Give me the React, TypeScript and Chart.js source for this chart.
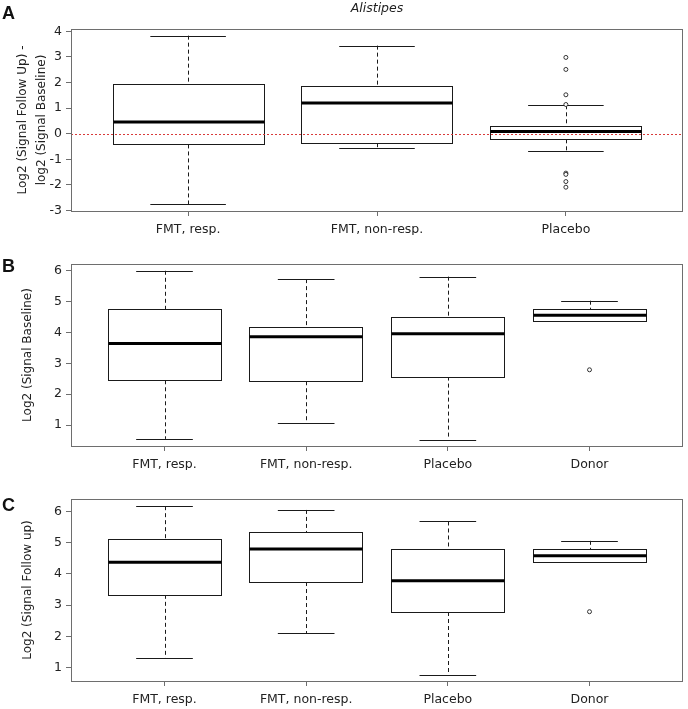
import React, { useEffect, useRef } from "react";
import { Chart, registerables } from "chart.js";

Chart.register(...registerables);

// ---------- data ----------
const categoriesA = ["FMT, resp.", "FMT, non-resp.", "Placebo"];
const categoriesBC = ["FMT, resp.", "FMT, non-resp.", "Placebo", "Donor"];

const yTicksA = [-3, -2, -1, 0, 1, 2, 3, 4];
const yTicksBC = [1, 2, 3, 4, 5, 6];

// Panel A: Log2 fold change
const lowA = [-2.75, -0.57, -0.69];
const q1A = [-0.42, -0.37, -0.22];
const medianA = [0.46, 1.2, 0.09];
const q3A = [1.93, 1.86, 0.31];
const highA = [3.83, 3.44, 1.11];
const outlierGroupA = [3, 3, 3, 3, 3, 3, 3, 3];
const outlierValueA = [2.98, 2.51, 1.52, 1.14, -1.54, -1.59, -1.87, -2.09];

// Panel B: baseline
const lowB = [0.55, 1.05, 0.53, 4.37];
const q1B = [2.45, 2.42, 2.57, 4.37];
const medianB = [3.64, 3.86, 3.96, 4.56];
const q3B = [4.76, 4.17, 4.51, 4.76];
const highB = [6.0, 5.73, 5.81, 5.03];
const outlierGroupB = [4];
const outlierValueB = [2.79];

// Panel C: follow up
const lowC = [1.31, 2.1, 0.77, 4.37];
const q1C = [3.33, 3.74, 2.78, 4.37];
const medianC = [4.37, 4.8, 3.78, 4.58];
const q3C = [5.13, 5.34, 4.8, 4.79];
const highC = [6.17, 6.05, 5.68, 5.06];
const outlierGroupC = [4];
const outlierValueC = [2.79];

const FONT = "'DejaVu Sans', Verdana, sans-serif";

type PanelProps = {
  categories: string[];
  low: number[];
  q1: number[];
  median: number[];
  q3: number[];
  high: number[];
  outlierGroup: number[];
  outlierValue: number[];
  yTicks: number[];
  yMin: number;
  yMax: number;
  xMin: number;
  xMax: number;
  yTitle: string | string[];
  yTitlePad: number;
  title?: string;
  zeroLine?: boolean;
  height: number;
  top: number;
};

function BoxPanel(p: PanelProps) {
  const ref = useRef<HTMLCanvasElement | null>(null);

  useEffect(() => {
    if (!ref.current) return;
    const plotBottom = 211;

    const boxPlugin = {
      id: "boxplotDraw",
      beforeDatasetsDraw(chart: any) {
        const { ctx, scales } = chart;
        const xs = scales.x;
        const ys = scales.y;
        ctx.save();
        for (let i = 0; i < p.categories.length; i++) {
          const v = i + 1;
          const cx = xs.getPixelForValue(v);
          const hw = xs.getPixelForValue(v + 0.4) - cx;
          const cap = hw / 2;
          const yl = ys.getPixelForValue(p.low[i]);
          const y1 = ys.getPixelForValue(p.q1[i]);
          const ym = ys.getPixelForValue(p.median[i]);
          const y3 = ys.getPixelForValue(p.q3[i]);
          const yh = ys.getPixelForValue(p.high[i]);
          ctx.strokeStyle = "#1a1a1a";
          ctx.lineWidth = 1;
          // whiskers (dashed)
          ctx.setLineDash([4, 3]);
          ctx.beginPath();
          ctx.moveTo(Math.round(cx) + 0.5, yh);
          ctx.lineTo(Math.round(cx) + 0.5, y3);
          ctx.moveTo(Math.round(cx) + 0.5, y1);
          ctx.lineTo(Math.round(cx) + 0.5, yl);
          ctx.stroke();
          ctx.setLineDash([]);
          // caps
          ctx.beginPath();
          ctx.moveTo(cx - cap, Math.round(yh) + 0.5);
          ctx.lineTo(cx + cap, Math.round(yh) + 0.5);
          ctx.moveTo(cx - cap, Math.round(yl) + 0.5);
          ctx.lineTo(cx + cap, Math.round(yl) + 0.5);
          ctx.stroke();
          // box
          ctx.fillStyle = "#ffffff";
          const bx = Math.round(cx - hw) + 0.5;
          const bw = Math.round(2 * hw);
          const by = Math.round(y3) + 0.5;
          const bh = Math.round(y1) - Math.round(y3);
          ctx.fillRect(bx, by, bw, bh);
          ctx.strokeRect(bx, by, bw, bh);
        }
        if (p.zeroLine) {
          const y0 = Math.round(ys.getPixelForValue(0)) + 0.5;
          ctx.strokeStyle = "#d83a3a";
          ctx.lineWidth = 1;
          ctx.setLineDash([2, 2]);
          ctx.beginPath();
          ctx.moveTo(chart.chartArea.left, y0);
          ctx.lineTo(chart.chartArea.right, y0);
          ctx.stroke();
          ctx.setLineDash([]);
        }
        // medians on top
        for (let i = 0; i < p.categories.length; i++) {
          const v = i + 1;
          const cx = xs.getPixelForValue(v);
          const hw = xs.getPixelForValue(v + 0.4) - cx;
          const ym = ys.getPixelForValue(p.median[i]);
          ctx.strokeStyle = "#000000";
          ctx.lineWidth = 3;
          ctx.beginPath();
          ctx.moveTo(Math.round(cx - hw) + 0.5, ym);
          ctx.lineTo(Math.round(cx - hw) + 0.5 + Math.round(2 * hw), ym);
          ctx.stroke();
        }
        ctx.restore();
      },
      afterDraw(chart: any) {
        const { ctx, chartArea } = chart;
        ctx.save();
        ctx.strokeStyle = "#6e6e6e";
        ctx.lineWidth = 1;
        ctx.strokeRect(
          Math.round(chartArea.left) + 0.5,
          Math.round(chartArea.top) + 0.5,
          Math.round(chartArea.right - chartArea.left) - 1,
          Math.round(chartArea.bottom - chartArea.top)
        );
        ctx.restore();
      },
    };

    const outlierData = p.outlierValue.map((val, k) => ({ x: p.outlierGroup[k], y: val }));

    const chart = new Chart(ref.current, {
      type: "scatter",
      data: {
        datasets: [
          {
            label: "outliers",
            data: outlierData,
            pointStyle: "circle",
            pointRadius: 2,
            pointBorderWidth: 1,
            borderColor: "#333333",
            backgroundColor: "#ffffff",
          },
        ],
      },
      options: {
        responsive: false,
        animation: false,
        devicePixelRatio: 1,
        layout: {
          padding: { top: p.title ? 0 : 29, left: 0, right: 1, bottom: 0 },
        },
        plugins: {
          legend: { display: false },
          tooltip: { enabled: false },
          title: {
            display: !!p.title,
            text: p.title || "",
            fullSize: false,
            color: "#222",
            font: { family: FONT, size: 12.5, style: "italic", weight: "normal", lineHeight: 1.2 },
            padding: { top: 1, bottom: 13 },
          },
        },
        scales: {
          x: {
            type: "linear",
            min: p.xMin,
            max: p.xMax,
            grid: { display: true, drawOnChartArea: false, drawTicks: true, tickLength: 5, color: "#6e6e6e" },
            border: { display: false },
            afterBuildTicks: (scale: any) => {
              scale.ticks = p.categories.map((_, i) => ({ value: i + 1 }));
            },
            afterFit: (scale: any) => {
              scale.height = p.height - plotBottom;
            },
            ticks: {
              autoSkip: false,
              maxRotation: 0,
              minRotation: 0,
              padding: 6,
              color: "#222",
              font: { family: FONT, size: 12.5 },
              callback: (value: any) => p.categories[Number(value) - 1] ?? "",
            },
          },
          y: {
            type: "linear",
            min: p.yMin,
            max: p.yMax,
            grid: { display: true, drawOnChartArea: false, drawTicks: true, tickLength: 5, color: "#6e6e6e" },
            border: { display: false },
            afterBuildTicks: (scale: any) => {
              scale.ticks = p.yTicks.map((v) => ({ value: v }));
            },
            afterFit: (scale: any) => {
              scale.width = 71;
            },
            ticks: {
              padding: 4,
              color: "#222",
              font: { family: FONT, size: 12.5 },
              callback: (value: any) => String(value),
            },
            title: {
              display: true,
              text: p.yTitle,
              color: "#222",
              font: { family: FONT, size: 12, lineHeight: 19 / 12 },
              padding: { top: p.yTitlePad, bottom: 0 },
            },
          },
        },
      },
      plugins: [boxPlugin],
    } as any);

    return () => chart.destroy();
  }, []);

  return (
    <canvas
      ref={ref}
      width={688}
      height={p.height}
      style={{ position: "absolute", left: 0, top: p.top, width: 688, height: p.height, display: "block" }}
    />
  );
}

const letterStyle = (top: number): React.CSSProperties => ({
  position: "absolute",
  left: 2,
  top,
  fontFamily: "'Liberation Sans', Arial, sans-serif",
  fontWeight: "bold",
  fontSize: 18,
  lineHeight: "18px",
  color: "#111",
});

export default function App() {
  return (
    <div style={{ position: "absolute", left: 0, top: 0, width: 688, height: 709, background: "#fff" }}>
      <BoxPanel
        categories={categoriesA}
        low={lowA}
        q1={q1A}
        median={medianA}
        q3={q3A}
        high={highA}
        outlierGroup={outlierGroupA}
        outlierValue={outlierValueA}
        yTicks={yTicksA}
        yMin={-3.02}
        yMax={4.09}
        xMin={0.38}
        xMax={3.62}
        yTitle={["Log2 (Signal Follow Up) -", "log2 (Signal Baseline)"]}
        yTitlePad={13.5}
        title="Alistipes"
        zeroLine
        height={235}
        top={0}
      />
      <BoxPanel
        categories={categoriesBC}
        low={lowB}
        q1={q1B}
        median={medianB}
        q3={q3B}
        high={highB}
        outlierGroup={outlierGroupB}
        outlierValue={outlierValueB}
        yTicks={yTicksBC}
        yMin={0.32}
        yMax={6.22}
        xMin={0.34}
        xMax={4.66}
        yTitle="Log2 (Signal Baseline)"
        yTitlePad={18.5}
        height={235}
        top={235}
      />
      <BoxPanel
        categories={categoriesBC}
        low={lowC}
        q1={q1C}
        median={medianC}
        q3={q3C}
        high={highC}
        outlierGroup={outlierGroupC}
        outlierValue={outlierValueC}
        yTicks={yTicksBC}
        yMin={0.57}
        yMax={6.4}
        xMin={0.34}
        xMax={4.66}
        yTitle="Log2 (Signal Follow up)"
        yTitlePad={18.5}
        height={239}
        top={470}
      />
      <div style={letterStyle(4)}>A</div>
      <div style={letterStyle(257)}>B</div>
      <div style={letterStyle(496)}>C</div>
    </div>
  );
}
